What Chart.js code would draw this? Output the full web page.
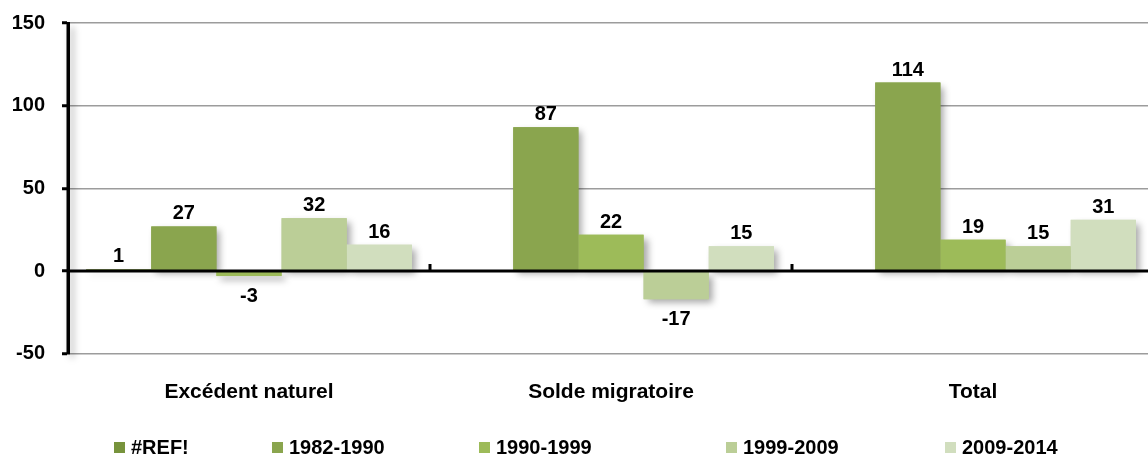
<!DOCTYPE html>
<html lang="fr">

<head>
  <meta charset="UTF-8">
  <title>Évolution de la population</title>
  <script src="https://cdn.jsdelivr.net/npm/chart.js@4.4.0/dist/chart.umd.min.js"></script>
  <style>
    body { margin: 0; overflow: hidden; background: #fff; }
    #wrap { position: relative; width: 1154px; height: 462px; }
    #legend {
      position: absolute; left: 0; top: 436px; width: 1154px; height: 22px;
      font: bold 20px "Liberation Sans", Arial, sans-serif; line-height: 22px; color: #000;
    }
    #legend .item { position: absolute; top: 0; display: flex; align-items: center; white-space: nowrap; }
    #legend .box { display: inline-block; width: 11px; height: 11px; margin-right: 6px; }
  </style>
</head>

<body>
  <div id="wrap">
    <canvas id="myChart" width="1154" height="462"></canvas>
    <div id="legend"></div>
  </div>

  <script>
    // catégories et séries
    const categories = ['Excédent naturel', 'Solde migratoire', 'Total'];
    const seriesNames = ['#REF!', '1982-1990', '1990-1999', '1999-2009', '2009-2014'];
    const refValues = [1, null, null];
    const values8290 = [27, 87, 114];
    const values9099 = [-3, 22, 19];
    const values9909 = [32, -17, 15];
    const values0914 = [16, 15, 31];
    const yMin = -50, yMax = 150, yStep = 50;

    const colors = ['#77933C', '#8AA54E', '#9DBB59', '#BBCE97', '#D1DEBE'];
    const allValues = [refValues, values8290, values9099, values9909, values0914];
    // position horizontale de chaque entrée de la légende
    const legendLeft = [114, 272, 479, 726, 945];

    const labelFont = 'bold 20px "Liberation Sans", Arial, sans-serif';

    // ombres, axe du zéro et étiquettes de valeurs
    const barDecor = {
      id: 'barDecor',
      beforeDatasetsDraw(chart) {
        const { ctx, chartArea } = chart;
        ctx.save();
        ctx.shadowColor = 'rgba(0,0,0,0.35)';
        ctx.shadowBlur = 7;
        ctx.shadowOffsetX = 4;
        ctx.shadowOffsetY = 4;
        ctx.strokeStyle = '#000';
        ctx.lineWidth = 3;
        ctx.beginPath();
        ctx.moveTo(chartArea.left, chartArea.top);
        ctx.lineTo(chartArea.left, chartArea.bottom);
        ctx.stroke();
        chart.data.datasets.forEach((ds, i) => {
          const meta = chart.getDatasetMeta(i);
          ctx.fillStyle = ds.backgroundColor;
          meta.data.forEach((bar, j) => {
            if (ds.data[j] == null) return;
            const top = Math.min(bar.y, bar.base);
            ctx.fillRect(bar.x - bar.width / 2, top, bar.width, Math.abs(bar.base - bar.y));
          });
        });
        ctx.restore();
      },
      afterDatasetsDraw(chart) {
        const { ctx, chartArea, scales: { x, y } } = chart;
        const y0 = y.getPixelForValue(0);
        ctx.save();
        ctx.strokeStyle = '#000';
        ctx.lineWidth = 3;
        ctx.beginPath();
        ctx.moveTo(chartArea.left, y0);
        ctx.lineTo(chartArea.right, y0);
        // petites graduations entre les catégories
        const w = (x.right - x.left) / categories.length;
        for (let i = 1; i <= categories.length; i++) {
          const bx = x.left + i * w;
          ctx.moveTo(bx, y0 - 7);
          ctx.lineTo(bx, y0);
        }
        ctx.stroke();

        ctx.font = labelFont;
        ctx.fillStyle = '#000';
        ctx.textAlign = 'center';
        ctx.textBaseline = 'alphabetic';
        chart.data.datasets.forEach((ds, i) => {
          const meta = chart.getDatasetMeta(i);
          meta.data.forEach((bar, j) => {
            const v = ds.data[j];
            if (v == null) return;
            const ty = v >= 0 ? bar.y - 7 : bar.y + 26;
            ctx.fillText(String(v), bar.x, ty);
          });
        });
        ctx.restore();
      }
    };

    Chart.defaults.font.family = '"Liberation Sans", Arial, sans-serif';
    Chart.defaults.font.size = 20;
    Chart.defaults.font.weight = 'bold';
    Chart.defaults.color = '#000';

    let ctx = document.getElementById('myChart').getContext('2d');
    let myChart = new Chart(ctx, {
      type: 'bar',
      data: {
        labels: categories,
        datasets: seriesNames.map((name, i) => ({
          label: name,
          data: allValues[i],
          backgroundColor: colors[i],
          borderWidth: 0,
          categoryPercentage: 0.9,
          barPercentage: 1.0
        }))
      },
      options: {
        responsive: false,
        animation: false,
        layout: { padding: { top: 23, left: 12, right: 0, bottom: 31 } },
        plugins: { legend: { display: false }, tooltip: { enabled: false } },
        scales: {
          x: {
            grid: { display: false, drawTicks: false },
            border: { display: false },
            ticks: { padding: 26, font: { size: 21 } }
          },
          y: {
            min: yMin,
            max: yMax,
            afterFit: scale => {
              scale.width = 56;
              scale.paddingTop = 0;
              scale.paddingBottom = 0;
            },
            ticks: { stepSize: yStep, padding: 17 },
            border: { color: '#000', width: 3 },
            grid: {
              color: c => c.tick && c.tick.value === 0 ? '#000' : '#9c9c9c',
              lineWidth: 1.5,
              tickLength: 6,
              tickWidth: 3,
              tickColor: '#000'
            }
          }
        }
      },
      plugins: [barDecor]
    });

    // légende
    const legend = document.getElementById('legend');
    seriesNames.forEach((name, i) => {
      const item = document.createElement('div');
      item.className = 'item';
      item.style.left = legendLeft[i] + 'px';
      item.innerHTML = `<span class="box" style="background:${colors[i]}"></span>${name}`;
      legend.appendChild(item);
    });
  </script>
</body>

</html>
